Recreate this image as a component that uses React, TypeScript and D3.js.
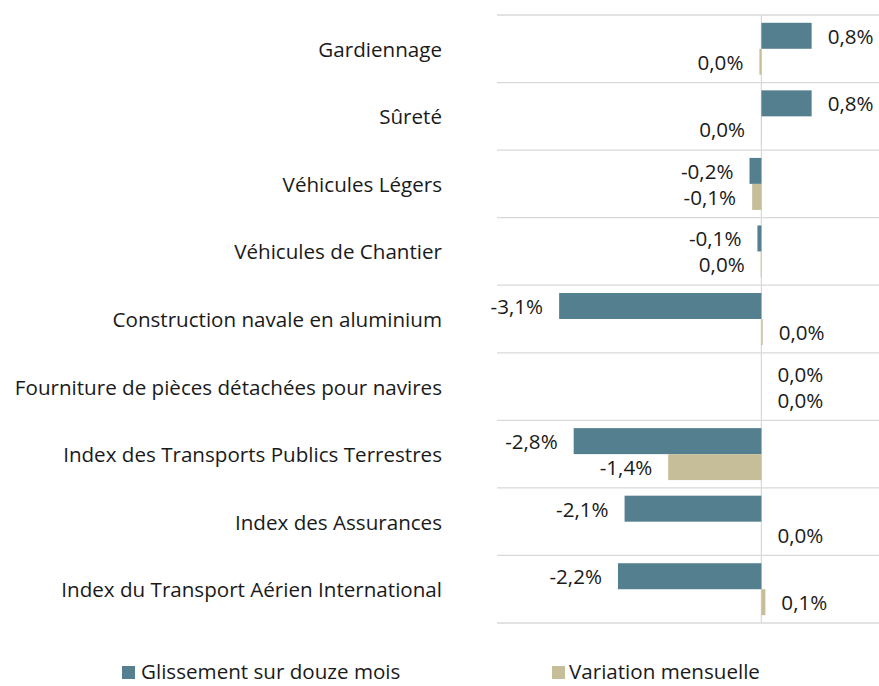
import React from "react";
import * as d3 from "d3";

const categories = [
  "Gardiennage",
  "Sûreté",
  "Véhicules Légers",
  "Véhicules de Chantier",
  "Construction navale en aluminium",
  "Fourniture de pièces détachées pour navires",
  "Index des Transports Publics Terrestres",
  "Index des Assurances",
  "Index du Transport Aérien International",
];

const glissement = [0.76, 0.76, -0.18, -0.06, -3.06, 0, -2.84, -2.07, -2.17];
const variation = [-0.03, -0.004, -0.14, -0.01, 0.02, 0, -1.41, 0, 0.06];

const seriesNames = ["Glissement sur douze mois", "Variation mensuelle"];
const seriesColors = ["#537F8F", "#C6BE98"];

const W = 879;
const H = 686;
const FONT = "'Open Sans', sans-serif";
const FS = 20.6;

function fmt(v: number): string {
  let r = Math.round(v * 10) / 10;
  if (Object.is(r, -0) || r === 0) r = 0;
  return r.toFixed(1).replace(".", ",") + "%";
}

export default function App() {
  const x = d3.scaleLinear().domain([-4, 2]).range([497, 497 + 6 * 66.1]);
  const y = d3.scaleBand<string>().domain(categories).range([15, 623]).padding(0);
  const sub = d3
    .scaleBand<string>()
    .domain(seriesNames)
    .range([0, y.bandwidth()])
    .paddingInner(0)
    .paddingOuter(0.3);

  const series = [glissement, variation];
  const x0 = x(0);
  const gridYs = categories.map((c) => y(c) as number).concat([y.range()[1]]);

  return (
    <div style={{ position: "absolute", left: 0, top: 0 }}>
      <svg width={W} height={H} style={{ display: "block", background: "#fff" }}>
        {gridYs.map((gy, i) => (
          <line key={"g" + i} x1={497} x2={W} y1={gy} y2={gy} stroke="#D9D9D9" strokeWidth={1.3} />
        ))}
        <line x1={x0} x2={x0} y1={15} y2={623} stroke="#D9D9D9" strokeWidth={1.3} />
        {categories.map((c) => (
          <text
            key={"c" + c}
            x={442}
            y={(y(c) as number) + y.bandwidth() / 2}
            textAnchor="end"
            dominantBaseline="central"
            fontFamily={FONT}
            fontSize={FS}
            fill="#1a1a1a"
          >
            {c}
          </text>
        ))}
        {series.map((vals, si) =>
          vals.map((v, i) => {
            const by = (y(categories[i]) as number) + (sub(seriesNames[si]) as number);
            const bh = sub.bandwidth();
            const xv = x(v);
            const left = Math.min(xv, x0);
            const w = Math.abs(xv - x0);
            const neg = v < 0;
            return (
              <g key={"b" + si + "-" + i}>
                <rect x={left} y={by} width={w} height={bh} fill={seriesColors[si]} />
                <text
                  x={neg ? xv - 16 : xv + 16}
                  y={by + bh / 2}
                  textAnchor={neg ? "end" : "start"}
                  dominantBaseline="central"
                  fontFamily={FONT}
                  fontSize={FS}
                  fill="#1a1a1a"
                >
                  {fmt(v)}
                </text>
              </g>
            );
          })
        )}
        {seriesNames.map((s, i) => {
          const lx = i === 0 ? 122 : 552;
          return (
            <g key={"l" + i}>
              <rect x={lx} y={666} width={13} height={13} fill={seriesColors[i]} />
              <text
                x={lx + (i === 0 ? 19 : 17)}
                y={679}
                fontFamily={FONT}
                fontSize={FS}
                fill="#1a1a1a"
              >
                {s}
              </text>
            </g>
          );
        })}
      </svg>
    </div>
  );
}
